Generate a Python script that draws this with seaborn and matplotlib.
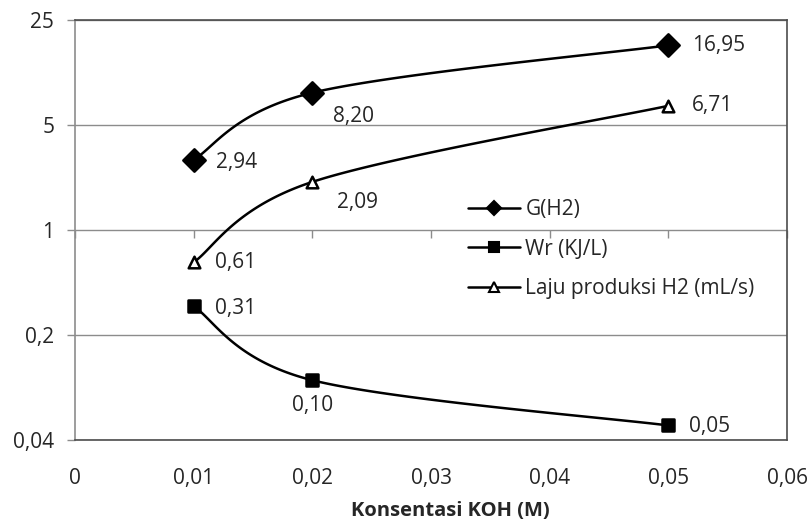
import numpy as np
import pandas as pd
import matplotlib
matplotlib.use("Agg")
import matplotlib.pyplot as plt
from matplotlib.lines import Line2D
from matplotlib.ticker import FixedLocator, FuncFormatter, NullLocator
import seaborn as sns

# ---- data ----
konsentrasi = [0.01, 0.02, 0.05]
g_h2 = [2.94, 8.20, 16.95]
wr = [0.31, 0.10, 0.05]
laju = [0.61, 2.09, 6.71]
series_names = ["G(H2)", "Wr (KJ/L)", "Laju produksi H2 (mL/s)"]
y_ticks = [0.04, 0.2, 1, 5, 25]
x_ticks = [0, 0.01, 0.02, 0.03, 0.04, 0.05, 0.06]

sns.set_theme(style="white")
plt.rcParams['font.family'] = ['Open Sans', 'DejaVu Sans']

fig = plt.figure(figsize=(8.11, 5.2), dpi=100)
ax = fig.add_axes([75/811, 1-440/520, (787-75)/811, (440-20)/520])
ax.set_xscale("linear")
ax.set_yscale("log", base=5)
ax.set_xlim(0, 0.06)
ax.set_ylim(0.04, 25)

def smooth(xs, ys, n=60):
    # Excel-like Bezier smoothing in display-proportional space
    u = np.array(xs) / 0.01 * 118.0
    v = np.log(np.array(ys)) / np.log(5) * 105.0
    P = np.column_stack([u, v])
    out = []
    m = len(P)
    for i in range(m - 1):
        p0 = P[i - 1] if i > 0 else P[i]
        p1 = P[i]
        p2 = P[i + 1]
        p3 = P[i + 2] if i + 2 < m else P[i + 1]
        c1 = p1 + (p2 - p0) / 6.0
        c2 = p2 - (p3 - p1) / 6.0
        t = np.linspace(0, 1, n)[:, None]
        seg = (1-t)**3*p1 + 3*(1-t)**2*t*c1 + 3*(1-t)*t**2*c2 + t**3*p2
        out.append(seg if i == 0 else seg[1:])
    S = np.vstack(out)
    return S[:, 0] / 118.0 * 0.01, 5 ** (S[:, 1] / 105.0)

markers = ["D", "s", "^"]
msizes = [130, 75, 70]
faces = ["black", "black", "white"]
all_y = [g_h2, wr, laju]

for name, ys, mk, ms, fc in zip(series_names, all_y, markers, msizes, faces):
    sx, sy = smooth(konsentrasi, ys)
    df_line = pd.DataFrame({"x": sx, "y": sy})
    sns.lineplot(data=df_line, x="x", y="y", ax=ax, color="black", lw=1.8,
                 sort=False, estimator=None, zorder=3)
    df_pt = pd.DataFrame({"x": konsentrasi, "y": ys})
    sns.scatterplot(data=df_pt, x="x", y="y", ax=ax, marker=mk, s=ms,
                    color=fc, edgecolor="black", linewidth=1.8, zorder=4)

def fmt(v):
    return f"{v:.2f}".replace(".", ",")

# label offsets in points (dx, dy)
offsets = {
    0: [(16, -2), (15, -17), (17, 0)],
    1: [(15, -1.5), (0, -18), (15, -0.5)],
    2: [(15, -0.5), (18, -14.5), (17, 0)],
}
for si, ys in enumerate(all_y):
    for pi, (xv, yv) in enumerate(zip(konsentrasi, ys)):
        dx, dy = offsets[si][pi]
        ha = "center" if dx == 0 else "left"
        ax.annotate(fmt(yv), (xv, yv), xytext=(dx, dy), textcoords="offset points",
                    ha=ha, va="center", fontsize=15, color="#262626")

# axes styling
grid_c = "#8c8c8c"
ax.yaxis.set_major_locator(FixedLocator(y_ticks))
ax.yaxis.set_minor_locator(NullLocator())
ax.yaxis.set_major_formatter(FuncFormatter(lambda v, p: f"{v:g}".replace(".", ",")))
ax.xaxis.set_major_locator(FixedLocator(x_ticks))
ax.xaxis.set_major_formatter(FuncFormatter(lambda v, p: "0" if v == 0 else f"{v:.2f}".replace(".", ",")))
ax.grid(axis="y", color=grid_c, lw=1.0)
ax.grid(axis="x", visible=False)
ax.set_axisbelow(True)
ax.tick_params(axis="y", which="major", direction="out", length=6, width=1,
               color=grid_c, labelsize=15, labelcolor="#262626", pad=9, left=True)
ax.tick_params(axis="x", which="major", length=0, labelsize=15, labelcolor="#262626", pad=20)
for side in ["top", "right", "bottom"]:
    ax.spines[side].set_color("#4d4d4d")
    ax.spines[side].set_linewidth(1.2)
ax.spines["left"].set_color(grid_c)
ax.spines["left"].set_linewidth(1.2)

# horizontal value axis crossing at y = 1
sec = ax.secondary_xaxis(0.5)
sec.xaxis.set_major_locator(FixedLocator(x_ticks))
sec.tick_params(direction="out", length=6, width=1, color=grid_c, labelbottom=False, labeltop=False,
                bottom=True, top=False)
sec.spines["bottom"].set_color(grid_c)
sec.spines["top"].set_visible(False)

ax.set_xlabel("Konsentasi KOH (M)", fontsize=14.5, fontweight="bold", color="#262626")
ax.xaxis.set_label_coords((450 - 75) / 712, -0.168)
ax.xaxis.label.set_va("center")
ax.set_ylabel("")

handles = [Line2D([0], [0], color="black", lw=1.8, marker=m, markersize=s,
                  markerfacecolor=f, markeredgecolor="black", markeredgewidth=1.5)
           for m, s, f in zip(["D", "s", "^"], [7, 7, 7], faces)]
leg = ax.legend(handles, series_names, loc="upper left", bbox_to_anchor=(0.552, 0.573),
                frameon=False, fontsize=15, handlelength=2.5, handletextpad=0.25,
                labelspacing=0.88, borderaxespad=0, borderpad=0)
for t in leg.get_texts():
    t.set_color("#262626")

fig.savefig("out.png", dpi=100)
